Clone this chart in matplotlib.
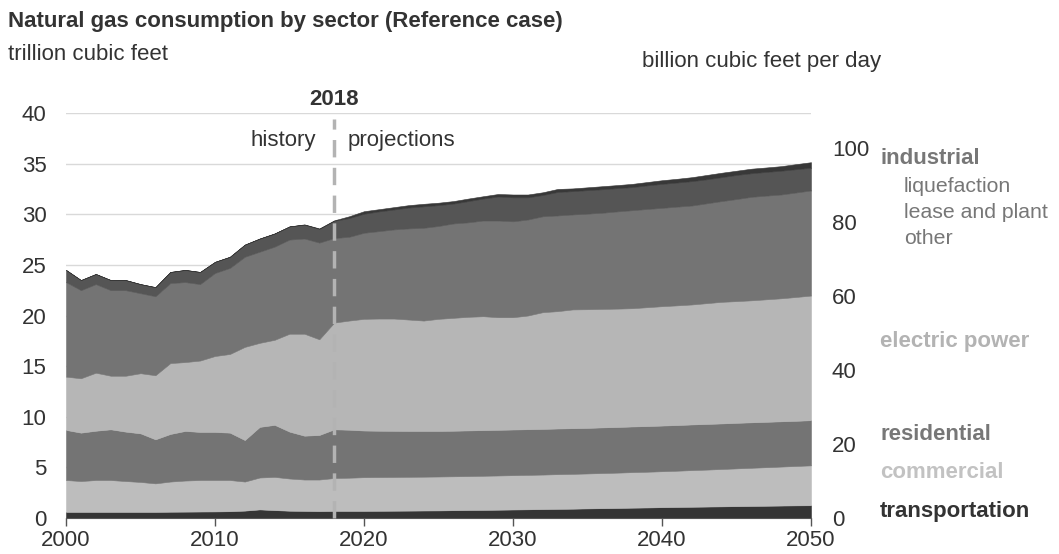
import matplotlib
matplotlib.use("Agg")
import matplotlib.pyplot as plt

plt.rcParams["font.family"] = ["Liberation Sans", "DejaVu Sans"]

# ---- data (trillion cubic feet) ------------------------------------------
years = list(range(2000, 2051))

transportation = [0.60, 0.60, 0.60, 0.60, 0.60, 0.60, 0.60, 0.62, 0.63, 0.64,
                  0.65, 0.67, 0.73, 0.85, 0.78, 0.72, 0.70, 0.68, 0.70, 0.70,
                  0.70, 0.71, 0.72, 0.73, 0.74, 0.75, 0.77, 0.79, 0.80, 0.82,
                  0.84, 0.86, 0.88, 0.90, 0.92, 0.95, 0.97, 0.99, 1.02, 1.04,
                  1.07, 1.09, 1.11, 1.13, 1.15, 1.17, 1.19, 1.21, 1.23, 1.25,
                  1.26]
commercial = [3.15, 3.05, 3.15, 3.15, 3.05, 2.96, 2.82, 2.98, 3.07, 3.11,
              3.10, 3.08, 2.87, 3.15, 3.28, 3.18, 3.10, 3.12, 3.25, 3.28,
              3.33, 3.33, 3.33, 3.34, 3.34, 3.35, 3.35, 3.35, 3.37, 3.38,
              3.39, 3.40, 3.41, 3.43, 3.44, 3.45, 3.47, 3.49, 3.51, 3.53,
              3.55, 3.58, 3.62, 3.65, 3.69, 3.73, 3.77, 3.81, 3.85, 3.89,
              3.94]
residential = [4.95, 4.78, 4.87, 5.01, 4.88, 4.80, 4.35, 4.70, 4.90, 4.75,
               4.75, 4.68, 4.10, 5.00, 5.14, 4.63, 4.33, 4.40, 4.81, 4.74,
               4.61, 4.58, 4.56, 4.53, 4.52, 4.50, 4.50, 4.51, 4.51, 4.51,
               4.51, 4.51, 4.51, 4.51, 4.51, 4.50, 4.51, 4.51, 4.51, 4.51,
               4.51, 4.51, 4.51, 4.51, 4.50, 4.50, 4.49, 4.48, 4.47, 4.46,
               4.46]
electric_power = [5.26, 5.37, 5.73, 5.29, 5.52, 5.94, 6.33, 7.00, 6.80, 7.05,
                  7.50, 7.77, 9.20, 8.30, 8.40, 9.67, 10.07, 9.45, 10.54, 10.78,
                  11.03, 11.08, 11.09, 11.00, 10.90, 11.07, 11.15, 11.22, 11.25, 11.12,
                  11.09, 11.23, 11.53, 11.59, 11.73, 11.72, 11.70, 11.69, 11.68, 11.74,
                  11.79, 11.82, 11.85, 11.93, 12.01, 12.02, 12.05, 12.10, 12.15, 12.23,
                  12.31]
ind_other = [9.34, 8.70, 8.75, 8.45, 8.45, 7.90, 7.80, 7.90, 7.90, 7.55,
             8.20, 8.50, 8.90, 9.00, 9.20, 9.30, 9.40, 9.55, 8.35, 8.27,
             8.50, 8.63, 8.80, 9.00, 9.16, 9.17, 9.32, 9.33, 9.45, 9.55,
             9.47, 9.48, 9.47, 9.45, 9.38, 9.44, 9.50, 9.60, 9.68, 9.70,
             9.71, 9.75, 9.77, 9.86, 9.95, 10.08, 10.22, 10.24, 10.25, 10.32,
             10.38]
lease_and_plant = [1.20, 1.00, 1.00, 1.00, 1.00, 0.90, 0.90, 1.10, 1.20, 1.20,
                   1.10, 1.10, 1.20, 1.30, 1.30, 1.30, 1.37, 1.35, 1.70, 1.85,
                   1.88, 1.95, 1.97, 2.06, 2.12, 2.06, 1.96, 2.10, 2.17, 2.37,
                   2.37, 2.19, 2.10, 2.32, 2.30, 2.32, 2.32, 2.30, 2.28, 2.33,
                   2.37, 2.38, 2.41, 2.37, 2.36, 2.38, 2.33, 2.34, 2.35, 2.30,
                   2.25]
liquefaction = [0, 0, 0, 0, 0, 0, 0, 0, 0, 0,
                0, 0, 0, 0, 0, 0, 0.03, 0.05, 0.05, 0.18,
                0.25, 0.22, 0.23, 0.24, 0.25, 0.24, 0.25, 0.25, 0.23, 0.25,
                0.28, 0.28, 0.27, 0.30, 0.27, 0.28, 0.30, 0.30, 0.32, 0.33,
                0.36, 0.37, 0.39, 0.43, 0.44, 0.42, 0.45, 0.44, 0.45, 0.50,
                0.54]

last_history = 2018
left_ticks = [0, 5, 10, 15, 20, 25, 30, 35, 40]
right_ticks = [0, 20, 40, 60, 80, 100]
x_ticks = [2000, 2010, 2020, 2030, 2040, 2050]

FS = 16

# ---- figure -----------------------------------------------------------
W, H = 1059, 554
fig = plt.figure(figsize=(W / 100, H / 100), dpi=100)


def fx(px):
    return px / W


def fy(py):
    return 1 - py / H


ax = fig.add_axes([fx(66), fy(518), fx(811) - fx(66), fy(113) - fy(518)])

layers = [transportation, commercial, residential, electric_power,
          ind_other, lease_and_plant, liquefaction]
colors = ["#353535", "#bdbdbd", "#747474", "#b6b6b6",
          "#747474", "#555555", "#383838"]
polys = ax.stackplot(years, *layers, colors=colors, zorder=2)
for p, c in zip(polys, colors):
    p.set_edgecolor(c)
    p.set_linewidth(0.4)

ax.set_xlim(2000, 2050)
ax.set_ylim(0, 40)
ax.set_yticks(left_ticks)
ax.set_xticks(x_ticks)
ax.grid(axis="y", color="#d9d9d9", lw=1, zorder=0)
ax.set_axisbelow(True)
for s in ["top", "right", "left"]:
    ax.spines[s].set_visible(False)
ax.spines["bottom"].set_color("#555555")
ax.spines["bottom"].set_zorder(4)
ax.tick_params(axis="y", length=0, pad=14, labelsize=FS, labelcolor="#333333")
ax.tick_params(axis="x", length=6, width=1, color="#555555", pad=3,
               labelsize=FS, labelcolor="#333333")

# right axis in billion cubic feet per day
ax2 = ax.twinx()
ax2.set_ylim(0, 40 * 1000 / 365)
ax2.set_yticks(right_ticks)
for s in ax2.spines.values():
    s.set_visible(False)
ax2.tick_params(axis="y", length=0, pad=15, labelsize=FS, labelcolor="#333333")

# history / projections divider
ax.plot([last_history, last_history], [0, 39.4], color="#b3b3b3", lw=2.5,
        dashes=(5, 3), zorder=5, clip_on=False)
ax.text(last_history, 41.3, str(last_history), ha="center", va="center",
        fontsize=FS, fontweight="bold", color="#333333", clip_on=False)
ax.text(last_history - 1.2, 37.3, "history", ha="right", va="center",
        fontsize=FS, color="#333333")
ax.text(last_history + 0.9, 37.3, "projections", ha="left", va="center",
        fontsize=FS, color="#333333")

# titles
fig.text(fx(8), fy(22), "Natural gas consumption by sector (Reference case)",
         fontsize=FS, fontweight="bold", color="#333333", va="center")
fig.text(fx(8), fy(55), "trillion cubic feet", fontsize=FS, color="#333333",
         va="center")
fig.text(fx(642), fy(62), "billion cubic feet per day", fontsize=FS,
         color="#333333", va="center")

# right-hand labels
labels = [
    ("industrial", 880, 158, "bold", "#777777", FS),
    ("liquefaction", 904, 186, "normal", "#777777", 15.3),
    ("lease and plant", 904, 212, "normal", "#777777", 15.3),
    ("other", 904, 238, "normal", "#777777", 15.3),
    ("electric power", 880, 341, "bold", "#b3b3b3", FS),
    ("residential", 880, 435, "bold", "#777777", FS),
    ("commercial", 880, 472, "bold", "#c2c2c2", FS),
    ("transportation", 880, 511, "bold", "#333333", FS),
]
for txt, x, y, w, c, size in labels:
    fig.text(fx(x), fy(y), txt, fontsize=size, fontweight=w, color=c,
             va="center", ha="left")

fig.savefig("out.png", dpi=100)
